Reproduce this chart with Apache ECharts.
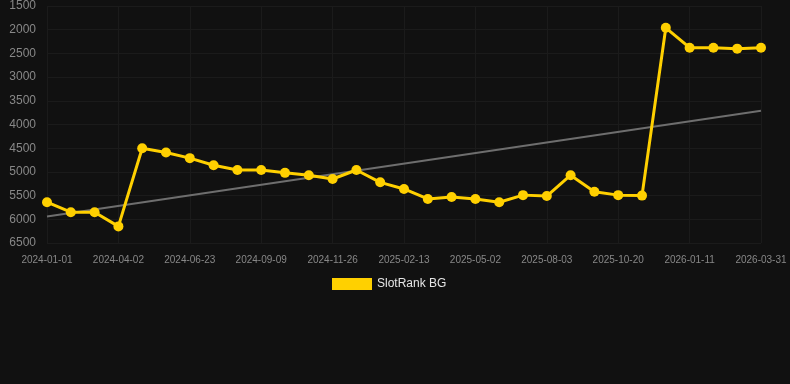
<!DOCTYPE html>
<html>
<head>
<meta charset="utf-8">
<script src="https://cdn.jsdelivr.net/npm/echarts@6/dist/echarts.min.js"></script>
<style>
html,body{margin:0;padding:0;background:#111111;}
#c{width:790px;height:384px;}
</style>
</head>
<body>
<div id="c"></div>
<script>
var categories = [
  '2024-01-01','2024-01-31','2024-03-02','2024-04-02','2024-04-29','2024-05-26',
  '2024-06-23','2024-07-19','2024-08-14','2024-09-09','2024-10-05','2024-10-31',
  '2024-11-26','2024-12-22','2025-01-18','2025-02-13','2025-03-11','2025-04-06',
  '2025-05-02','2025-06-02','2025-07-03','2025-08-03','2025-08-29','2025-09-24',
  '2025-10-20','2025-11-17','2025-12-14','2026-01-11','2026-02-06','2026-03-05',
  '2026-03-31'
];
var rankValues = [
  5640, 5850, 5850, 6150, 4500, 4590, 4710, 4860, 4960, 4960, 5020,
  5070, 5150, 4960, 5220, 5360, 5570, 5530, 5570, 5640, 5490, 5510,
  5070, 5420, 5490, 5500, 1960, 2380, 2380, 2400, 2380
];
var trendStart = 5940;
var trendEnd = 3710;
var yTicks = [1500, 2000, 2500, 3000, 3500, 4000, 4500, 5000, 5500, 6000, 6500];

var trendData = categories.map(function(c, i){
  if (i === 0) return trendStart;
  if (i === categories.length - 1) return trendEnd;
  return null;
});

var chart = echarts.init(document.getElementById('c'), null, {renderer:'canvas'});
chart.setOption({
  backgroundColor: '#111111',
  animation: false,
  grid: {left: 47, right: 29, top: 6, bottom: 141},
  legend: {
    top: 278,
    left: 332,
    data: [{name: 'SlotRank BG', icon: 'rect'}],
    itemWidth: 40,
    itemHeight: 12,
    padding: 0,
    textStyle: {color: '#e6e6e6', fontSize: 12, fontFamily: 'Liberation Sans, Arial, sans-serif'}
  },
  xAxis: {
    type: 'category',
    boundaryGap: false,
    data: categories,
    axisLine: {show: false},
    axisTick: {show: false},
    axisLabel: {
      interval: 2,
      color: '#888888',
      fontSize: 10,
      margin: 12,
      fontFamily: 'Liberation Sans, Arial, sans-serif'
    },
    splitLine: {show: true, interval: 2, lineStyle: {color: '#1b1b1b', width: 1}}
  },
  yAxis: {
    type: 'value',
    inverse: true,
    min: yTicks[0],
    max: yTicks[yTicks.length - 1],
    interval: 500,
    axisLine: {show: false},
    axisTick: {show: false},
    axisLabel: {
      color: '#888888',
      fontSize: 12,
      margin: 11,
      formatter: function(v){ return String(v); },
      fontFamily: 'Liberation Sans, Arial, sans-serif'
    },
    splitLine: {lineStyle: {color: '#1b1b1b', width: 1}}
  },
  series: [
    {
      name: 'Trend',
      type: 'line',
      data: trendData,
      connectNulls: true,
      symbol: 'none',
      lineStyle: {color: '#6e6e6e', width: 2},
      itemStyle: {color: '#6e6e6e'},
      silent: true,
      z: 1
    },
    {
      name: 'SlotRank BG',
      type: 'line',
      data: rankValues,
      symbol: 'circle',
      symbolSize: 10,
      lineStyle: {color: '#ffd000', width: 3},
      itemStyle: {color: '#ffd000'},
      z: 2
    }
  ]
});
</script>
</body>
</html>
